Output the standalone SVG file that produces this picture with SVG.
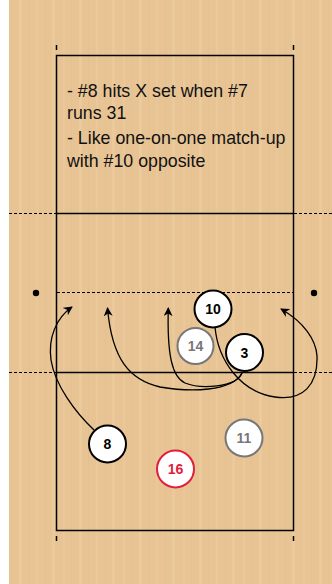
<svg xmlns="http://www.w3.org/2000/svg" width="332" height="584" viewBox="0 0 332 584">
<defs>
<pattern id="wood" patternUnits="userSpaceOnUse" width="60" height="584">
<rect width="60" height="584" fill="#e8c494"/>
<rect x="3" width="2" height="584" fill="#edcca0" opacity="0.5"/>
<rect x="11" width="1" height="584" fill="#dfba88" opacity="0.35"/>
<rect x="19" width="3" height="584" fill="#efd0a6" opacity="0.45"/>
<rect x="28" width="1" height="584" fill="#ddb784" opacity="0.3"/>
<rect x="36" width="2" height="584" fill="#eccb9e" opacity="0.5"/>
<rect x="45" width="1" height="584" fill="#e0bb8a" opacity="0.35"/>
<rect x="52" width="3" height="584" fill="#eed0a5" opacity="0.4"/>
</pattern>
<marker id="ah" viewBox="0 0 10 10" refX="9" refY="5" markerWidth="9" markerHeight="9" markerUnits="userSpaceOnUse" orient="auto">
<path d="M0,0 L10,5 L0,10 L3,5 Z" fill="#000"/>
</marker>
</defs>
<style>
.court{fill:none;stroke:#000;stroke-width:1.5}
.dash{fill:none;stroke:#000;stroke-width:1.2;stroke-dasharray:3,2}
.arr{fill:none;stroke:#000;stroke-width:1.3;marker-end:url(#ah)}
.note{font-family:"Liberation Sans",Arial,sans-serif;font-size:17.8px;fill:#111}
.pl circle{fill:#fff;stroke-width:2}
.pl text{font-family:"Liberation Sans",Arial,sans-serif;font-size:14px;font-weight:bold;text-anchor:middle}
.blk circle{stroke:#000}
.blk text{fill:#000}
.gry circle{stroke:#777}
.gry text{fill:#777}
.red circle{stroke:#e0203a}
.red text{fill:#e0203a}
</style>
<rect width="332" height="584" fill="#fff"/>
<rect x="9" y="0" width="323" height="584" fill="url(#wood)"/>
<g id="court">
<rect class="court" x="56.5" y="55.5" width="237" height="475"/>
<line class="court" x1="56.5" y1="45" x2="56.5" y2="50"/>
<line class="court" x1="293.5" y1="45" x2="293.5" y2="50"/>
<line class="court" x1="56.5" y1="536" x2="56.5" y2="541"/>
<line class="court" x1="293.5" y1="536" x2="293.5" y2="541"/>
<line class="court" x1="56.5" y1="213.5" x2="293.5" y2="213.5"/>
<line class="court" x1="56.5" y1="372.5" x2="293.5" y2="372.5"/>
<line class="dash" x1="9" y1="213.5" x2="56" y2="213.5"/>
<line class="dash" x1="294" y1="213.5" x2="332" y2="213.5"/>
<line class="dash" x1="9" y1="372.5" x2="56" y2="372.5"/>
<line class="dash" x1="294" y1="372.5" x2="332" y2="372.5"/>
<line class="dash" x1="57" y1="292.5" x2="293" y2="292.5"/>
<circle cx="36" cy="293" r="3.2" fill="#000"/>
<circle cx="314" cy="293" r="3.2" fill="#000"/>
</g>
<g id="notes">
<text class="note" x="67" y="96.7">- #8 hits X set when #7</text>
<text class="note" x="67" y="119.3">runs 31</text>
<text class="note" x="67" y="144.3">- Like one-on-one match-up</text>
<text class="note" x="67" y="167">with #10 opposite</text>
</g>
<g id="connectors">
<path class="arr" d="M94,430 C75,412 55,385 51,360 C48,338 56,318 72,307"/>
<path class="arr" d="M242,373 C232,392 190,392 160,387 C130,380 112,360 107.5,308"/>
<path class="arr" d="M242,373 C236,388 200,389 185,383 C172,377 167,355 168.3,308"/>
<path class="arr" d="M215,327 C218,360 240,392 275,397 C303,401 318,385 317,356 C316,340 304,322 281,309"/>
</g>
<g id="p10" class="pl blk"><circle cx="213" cy="309" r="18.5"/><text x="213" y="314">10</text></g>
<g id="p14" class="pl gry"><circle cx="195.5" cy="346" r="18"/><text x="195.5" y="351">14</text></g>
<g id="p3" class="pl blk"><circle cx="244.5" cy="352.5" r="18.5"/><text x="244.5" y="357.5">3</text></g>
<g id="p8" class="pl blk"><circle cx="107.5" cy="444" r="18.5"/><text x="107.5" y="449">8</text></g>
<g id="p16" class="pl red"><circle cx="175.5" cy="469" r="18.5"/><text x="175.5" y="474">16</text></g>
<g id="p11" class="pl gry"><circle cx="244" cy="438" r="18.5"/><text x="244" y="443">11</text></g>
</svg>
